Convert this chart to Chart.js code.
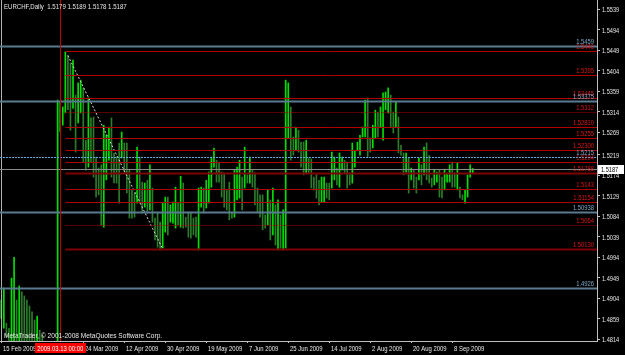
<!DOCTYPE html>
<html><head><meta charset="utf-8">
<script src="https://cdn.jsdelivr.net/npm/chart.js@4/dist/chart.umd.min.js"></script>
<style>html,body{margin:0;padding:0;background:#000;overflow:hidden}#wrap{position:relative;width:625px;height:355px}</style>
</head><body><div id="wrap"><canvas id="c" width="625" height="355"></canvas></div>
<script>
// ---------- data ----------
const firstDay = '2009-02-15';      // first daily bar (MT4 feed with Sunday bars, no Saturday)
const slotCount = 233;              // bars + empty chart shift on the right
const highs = [1.4900,1.4926,1.4849,1.4838,1.4948,1.4994,1.4900,1.4931,1.4918,1.4909,1.4900,1.4887,1.4874,1.4856,1.4865,1.4834,1.4823,1.4800,1.4795,1.4790,1.4785,1.4790,
1.5339,1.5335,1.5324,1.5445,1.5437,1.5420,1.5427,1.5350,1.5377,1.5383,1.5366,1.5251,1.5344,1.5300,1.5302,1.5214,1.5190,1.5197,1.5284,1.5262,1.5280,1.5300,1.5223,1.5214,
1.5245,1.5269,1.5245,1.5245,1.5185,1.5141,1.5135,1.5236,1.5214,1.5159,1.5157,1.5163,1.5197,1.5146,1.5080,1.5093,1.5071,1.5113,
1.5126,1.5126,1.5109,1.5115,1.5148,1.5113,1.5172,1.5157,1.5082,1.5093,1.5093,1.5080,1.5082,1.5146,1.5148,1.5146,1.5163,1.5181,1.5214,1.5234,1.5207,1.5203,1.5181,1.5179,
1.5142,1.5159,1.5093,1.5185,1.5192,1.5207,1.5170,1.5236,1.5175,1.5214,1.5185,1.5179,1.5146,1.5131,1.5131,1.5087,
1.5142,1.5120,1.5146,1.5109,1.5120,1.5087,1.5098,1.5383,1.5377,1.5324,1.5258,1.5280,1.5273,1.5247,1.5247,1.5251,1.5212,1.5210,1.5170,1.5175,1.5163,1.5170,1.5170,1.5157,1.5157,
1.5225,1.5214,1.5190,1.5223,1.5214,1.5207,1.5203,1.5179,1.5245,1.5229,1.5247,1.5262,1.5280,1.5339,1.5344,1.5256,1.5284,
1.5317,1.5313,1.5324,1.5355,1.5357,1.5366,1.5350,1.5313,1.5335,1.5302,1.5240,1.5223,1.5223,1.5212,1.5190,1.5185,1.5170,1.5212,1.5197,1.5236,1.5245,1.5218,1.5168,1.5185,
1.5181,1.5185,1.5170,1.5185,1.5179,1.5197,1.5203,1.5179,1.5201,1.5148,1.5131,1.5142,1.5175,1.5197,1.5189];
const lows = [1.4860,1.4838,1.4819,1.4801,1.4800,1.4800,1.4790,1.4795,1.4790,1.4795,1.4790,1.4785,1.4790,1.4785,1.4780,1.4780,1.4775,1.4760,1.4740,1.4735,1.4730,1.4740,
1.4775,1.5270,1.5284,1.5311,1.5318,1.5273,1.5321,1.5225,1.5289,1.5311,1.5203,1.5185,1.5192,1.5203,1.5170,1.5126,1.5131,1.5065,1.5060,1.5164,1.5207,1.5170,1.5157,1.5157,
1.5113,1.5212,1.5181,1.5135,1.5080,1.5080,1.5082,1.5113,1.5113,1.5091,1.5104,1.5091,1.5098,1.5071,1.5032,1.5016,1.5010,1.5014,
1.5049,1.5043,1.5071,1.5069,1.5058,1.5065,1.5060,1.5058,1.5060,1.5038,1.5036,1.5043,1.5038,1.5010,1.5104,1.5091,1.5102,1.5113,1.5148,1.5192,1.5159,1.5159,1.5126,1.5104,
1.5098,1.5076,1.5080,1.5082,1.5120,1.5124,1.5098,1.5146,1.5157,1.5157,1.5148,1.5109,1.5093,1.5082,1.5054,1.5058,
1.5065,1.5032,1.5043,1.5021,1.5010,1.5014,1.5010,1.5014,1.5256,1.5207,1.5218,1.5229,1.5225,1.5192,1.5175,1.5179,1.5179,1.5146,1.5142,1.5124,1.5109,1.5115,1.5115,1.5124,1.5120,
1.5146,1.5164,1.5153,1.5148,1.5185,1.5179,1.5146,1.5153,1.5157,1.5192,1.5229,1.5218,1.5258,1.5258,1.5214,1.5225,1.5234,
1.5256,1.5258,1.5280,1.5251,1.5318,1.5311,1.5280,1.5267,1.5280,1.5223,1.5218,1.5175,1.5181,1.5135,1.5164,1.5146,1.5135,1.5164,1.5153,1.5175,1.5164,1.5157,1.5148,1.5153,
1.5159,1.5126,1.5124,1.5142,1.5159,1.5159,1.5148,1.5148,1.5142,1.5124,1.5120,1.5113,1.5126,1.5170,1.5178];
const yTicks = [1.5539,1.5494,1.5449,1.5404,1.5359,1.5314,1.5269,1.5219,1.5174,1.5129,1.5084,1.5039,1.4994,1.4949,1.4904,1.4859,1.4814];
const xTickLabels = ['15 Feb 2009','24 Mar 2009','12 Apr 2009','30 Apr 2009','19 May 2009','7 Jun 2009','25 Jun 2009','14 Jul 2009','2 Aug 2009','20 Aug 2009','8 Sep 2009'];
const headerText = 'EURCHF,Daily  1.5179 1.5189 1.5178 1.5187';
const footerText = 'MetaTrader, \u00a9 2001-2008 MetaQuotes Software Corp.';
const lastPrice = 1.5187;
const crosshairDay = '13 Mar 2009';
const crosshairText = '2009.03.13 00:00';
const levelsStartDay = '16 Mar 2009';
const redLevels = [1.5446,1.5395,1.53445,1.5312,1.52810,1.5255,1.52300,1.5204,1.51788,1.5143,1.51154,1.5064,1.50130];
const redLabels = ['1.5446','1.5395','1.53445','1.5312','1.52810','1.5255','1.52300','1.5204','1.51788','1.5143','1.51154','1.5064','1.50130'];
const blueLevels = [1.5459,1.53375,1.5215,1.50938,1.4926];
const blueLabels = ['1.5459','1.53375','1.5215','1.50938','1.4926'];
const trendDays = ['17 Mar 2009','29 Apr 2009'];
const trendPrices = [1.5437,1.5012];

// ---------- build ----------
const MON = ['Jan','Feb','Mar','Apr','May','Jun','Jul','Aug','Sep','Oct','Nov','Dec'];
const categories = [];
{ let d = new Date(firstDay + 'T00:00:00Z');
  while (categories.length < slotCount) {
    if (d.getUTCDay() !== 6) categories.push(d.getUTCDate() + ' ' + MON[d.getUTCMonth()] + ' ' + d.getUTCFullYear());
    d = new Date(d.getTime() + 86400000);
  } }
const ranges = categories.map((c, i) => i < highs.length ? [lows[i], highs[i]] : null);
const barColors = categories.map((c, i) => {
  if (i >= highs.length || i === 0) return '#00e000';
  const m = (highs[i] + lows[i]) / 2, pm = (highs[i-1] + lows[i-1]) / 2;
  return m >= pm ? '#00e000' : '#2c7c2c';
});
const trendData = categories.map(c => { const k = trendDays.indexOf(c); return k >= 0 ? trendPrices[k] : null; });
const xTickIdx = xTickLabels.map(l => categories.indexOf(l));

const FONT = "'Liberation Sans',Arial,sans-serif";
const TXT = '#e8e8e8';
function narrowText(ctx, str, x, y, align, base, sx, color) {
  ctx.save();
  ctx.translate(x, y); ctx.scale(sx, 1);
  ctx.font = '8px ' + FONT; ctx.textAlign = align; ctx.textBaseline = base; ctx.fillStyle = color;
  ctx.fillText(str, 0, 0);
  ctx.restore();
}

const overlay = {
  id: 'mt4overlay',
  afterDatasetsDraw(chart) {
    const ctx = chart.ctx, a = chart.chartArea, x = chart.scales.x, y = chart.scales.y;
    ctx.save();
    ctx.beginPath(); ctx.rect(a.left, a.top, a.right - a.left, a.bottom - a.top); ctx.clip();
    ctx.strokeStyle = '#b0b0b0'; ctx.lineWidth = 1;
    ctx.beginPath(); ctx.moveTo(1.5, a.top); ctx.lineTo(1.5, a.bottom); ctx.stroke();
    const xs = x.getPixelForValue(categories.indexOf(levelsStartDay));
    blueLevels.forEach((v, k) => {
      const py = Math.round(y.getPixelForValue(v)) + 0.5;
      const light = blueLabels[k] === '1.5215';
      ctx.strokeStyle = light ? '#62a8dc' : '#5a7a92';
      ctx.lineWidth = light ? 1 : 2;
      ctx.setLineDash(light ? [2, 1] : []);
      ctx.beginPath(); ctx.moveTo(a.left, py); ctx.lineTo(a.right, py); ctx.stroke();
    });
    ctx.setLineDash([]);
    { const py = Math.round(y.getPixelForValue(lastPrice)) + 0.5;
      ctx.strokeStyle = '#8a8a8a'; ctx.lineWidth = 1;
      ctx.beginPath(); ctx.moveTo(a.left, py); ctx.lineTo(a.right, py); ctx.stroke(); }
    redLevels.forEach((v, k) => {
      const py = Math.round(y.getPixelForValue(v)) + 0.5;
      const lab = redLabels[k];
      const dotted = lab === '1.5312' || lab === '1.5064';
      const heavy = lab === '1.51788' || lab === '1.50130';
      ctx.strokeStyle = heavy ? '#800000' : '#b00000';
      ctx.lineWidth = heavy ? 2 : 1;
      ctx.setLineDash(dotted ? [1, 1] : []);
      ctx.beginPath(); ctx.moveTo(xs, py); ctx.lineTo(a.right, py); ctx.stroke();
    });
    ctx.setLineDash([]);
    { const cx = Math.round(x.getPixelForValue(categories.indexOf(crosshairDay))) + 0.5;
      ctx.strokeStyle = '#c00000'; ctx.lineWidth = 1;
      ctx.beginPath(); ctx.moveTo(cx, a.top); ctx.lineTo(cx, a.bottom); ctx.stroke(); }
    redLevels.forEach((v, k) => narrowText(ctx, redLabels[k], a.right - 3, Math.round(y.getPixelForValue(v)) - 0.5, 'right', 'bottom', 0.73, '#e01414'));
    blueLevels.forEach((v, k) => narrowText(ctx, blueLabels[k], a.right - 3, Math.round(y.getPixelForValue(v)) - 0.5, 'right', 'bottom', 0.73, '#7fa8c8'));
    narrowText(ctx, headerText, 4, 3, 'left', 'top', 0.76, TXT);
    narrowText(ctx, footerText, 4, a.bottom - 1, 'left', 'bottom', 0.82, TXT);
    ctx.restore();
  },
  afterDraw(chart) {
    const ctx = chart.ctx, a = chart.chartArea, x = chart.scales.x, y = chart.scales.y;
    // price axis labels
    yTicks.forEach(v => narrowText(ctx, v.toFixed(4), a.right + 5, Math.round(y.getPixelForValue(v)) + 0.5, 'left', 'middle', 0.7, TXT));
    // time axis labels
    xTickIdx.forEach((i, k) => narrowText(ctx, xTickLabels[k], Math.round(x.getPixelForValue(i)) + 2, a.bottom + 7.5, 'left', 'middle', 0.74, TXT));
    ctx.save();
    const cx = x.getPixelForValue(categories.indexOf(crosshairDay));
    ctx.font = '8px ' + FONT;
    const tw = ctx.measureText(crosshairText).width * 0.74 + 5;
    ctx.fillStyle = '#ff0000'; ctx.fillRect(Math.round(cx - tw / 2), a.bottom + 2, Math.round(tw), 10);
    ctx.restore();
    narrowText(ctx, crosshairText, cx, a.bottom + 7.5, 'center', 'middle', 0.74, '#ffffff');
    const py = Math.round(y.getPixelForValue(lastPrice));
    ctx.save();
    ctx.fillStyle = '#ffffff'; ctx.fillRect(a.right + 1, py - 4, 26, 9);
    ctx.restore();
    narrowText(ctx, lastPrice.toFixed(4), a.right + 4, py + 0.5, 'left', 'middle', 0.7, '#000000');
  }
};

new Chart(document.getElementById('c'), {
  data: {
    labels: categories,
    datasets: [
      { type: 'bar', data: ranges, backgroundColor: barColors, barThickness: 1, borderWidth: 0, grouped: false, clip: 0, order: 2 },
      { type: 'line', data: trendData, spanGaps: true, borderColor: '#d8d8d8', borderWidth: 1, borderDash: [2, 2], pointRadius: 0, fill: false, order: 1 }
    ]
  },
  options: {
    responsive: false, animation: false, devicePixelRatio: 1,
    layout: { padding: 0 },
    plugins: { legend: { display: false }, tooltip: { enabled: false } },
    scales: {
      x: {
        type: 'category', offset: true,
        grid: { display: true, drawOnChartArea: false, drawTicks: true, tickLength: 2, color: '#c0c0c0', offset: false },
        border: { display: true, color: '#c0c0c0' },
        ticks: { display: false, autoSkip: false, maxRotation: 0 },
        afterBuildTicks: s => { s.ticks = xTickIdx.map(i => ({ value: i })); },
        afterFit: s => { s.height = 14; s.paddingLeft = 0; s.paddingRight = 0; }
      },
      y: {
        type: 'linear', position: 'right', min: 1.4810, max: 1.5559,
        grid: { display: true, drawOnChartArea: false, drawTicks: true, tickLength: 3, color: '#c0c0c0' },
        border: { display: true, color: '#c0c0c0' },
        ticks: { display: false },
        afterBuildTicks: s => { s.ticks = yTicks.map(v => ({ value: v })); },
        afterFit: s => { s.width = 28; s.paddingTop = 0; s.paddingBottom = 0; }
      }
    }
  },
  plugins: [overlay]
});
</script></body></html>
